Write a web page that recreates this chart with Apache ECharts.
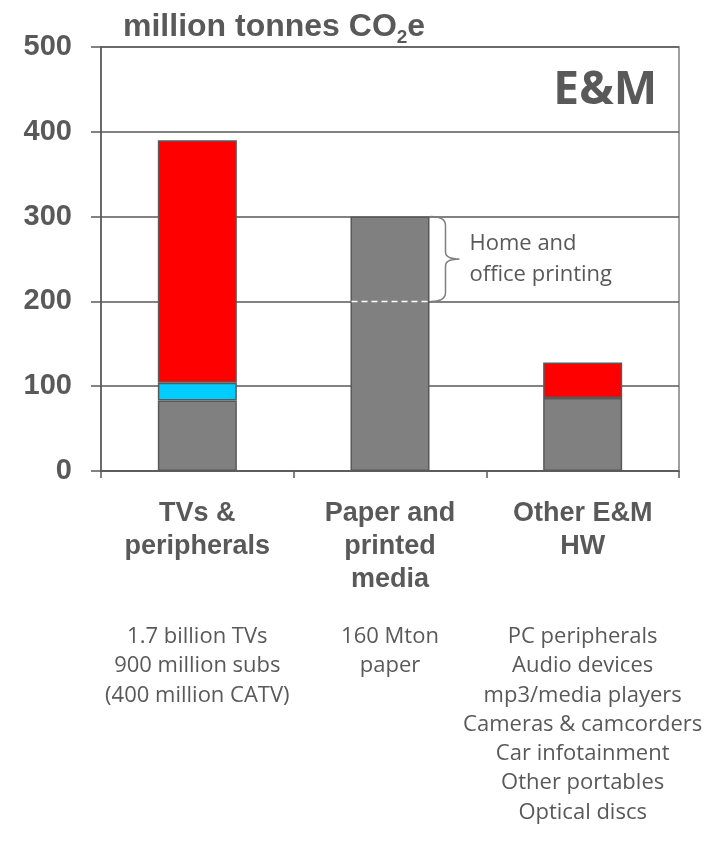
<!DOCTYPE html>
<html>
<head>
<meta charset="utf-8">
<script src="https://cdn.jsdelivr.net/npm/echarts@6/dist/echarts.min.js"></script>
<style>
html,body{margin:0;padding:0;background:#fff;}
#chart{width:715px;height:842px;}
</style>
</head>
<body>
<div id="chart"></div>
<script>
// ---- data ----
const categories = ['TVs &\nperipherals', 'Paper and\nprinted\nmedia', 'Other E&M\nHW'];
const descriptions = [
  '1.7 billion TVs\n900 million subs\n(400 million CATV)',
  '160 Mton\npaper',
  'PC peripherals\nAudio devices\nmp3/media players\nCameras & camcorders\nCar infotainment\nOther portables\nOptical discs'
];
const grayValues = [83, 300, 86];
const blueValues = [21, null, null];
const redValues = [286, null, 42];
const yMin = 0, yMax = 500, yInterval = 100;
const printingCategory = 1;
const printingRange = [200, 300];
const printingLabel = 'Home and\noffice printing';
const unitLabel = 'million tonnes CO';
const panelLabel = 'E&M';

// ---- chart ----
const TXT = '#595959';
const BOLD = '"Liberation Sans", Arial, sans-serif';
const BAR_W = 0.41;
const chart = echarts.init(document.getElementById('chart'));

const barStyle = (c) => ({ color: c, borderColor: '#595959', borderWidth: 1.5 });

chart.setOption({
  animation: false,
  title: {
    left: 118, top: 3,
    text: '{a|' + unitLabel + '}{s|2}{a|e}',
    textStyle: {
      rich: {
        a: { fontFamily: BOLD, fontWeight: 'bold', fontSize: 32, color: TXT, lineHeight: 38 },
        s: { fontFamily: BOLD, fontWeight: 'bold', fontSize: 19, color: TXT, lineHeight: 19, padding: [21, 0, 0, 0] }
      }
    }
  },
  graphic: [{
    type: 'text', right: 58, top: 68,
    style: { text: panelLabel, font: 'bold 46px "Open Sans"', fill: TXT }
  }],
  grid: { left: 101, right: 36, top: 47, bottom: 371, show: true, borderColor: '#808080', borderWidth: 1.5 },
  xAxis: [{
    type: 'category', data: categories, position: 'bottom',
    axisLine: { lineStyle: { color: '#595959', width: 1.5 } },
    axisTick: { show: true, length: 7, interval: 0, lineStyle: { color: '#595959', width: 1.5 } },
    axisLabel: {
      interval: 0, margin: 26, verticalAlign: 'top',
      fontFamily: BOLD, fontWeight: 'bold', fontSize: 27, lineHeight: 33, color: TXT
    }
  }, {
    type: 'category', data: descriptions, position: 'bottom',
    axisLine: { show: false }, axisTick: { show: false },
    axisLabel: {
      interval: 0, margin: 151, verticalAlign: 'top',
      fontFamily: '"Open Sans"', fontSize: 22, lineHeight: 29.3, color: TXT
    }
  }],
  yAxis: {
    type: 'value', min: yMin, max: yMax, interval: yInterval,
    axisLine: { show: true, lineStyle: { color: '#595959', width: 1.5 } },
    axisTick: { show: true, length: 10, lineStyle: { color: '#595959', width: 1.5 } },
    splitLine: { lineStyle: { color: '#595959', width: 1.5 } },
    axisLabel: { margin: 29, fontFamily: BOLD, fontWeight: 'bold', fontSize: 29, color: TXT }
  },
  series: [
    { type: 'bar', stack: 's', data: grayValues, barWidth: (BAR_W * 100) + '%', itemStyle: barStyle('#808080') },
    { type: 'bar', stack: 's', data: blueValues, barWidth: (BAR_W * 100) + '%', itemStyle: barStyle('#00CCFF') },
    { type: 'bar', stack: 's', data: redValues, barWidth: (BAR_W * 100) + '%', itemStyle: barStyle('#FF0000') },
    {
      type: 'custom', z: 10, silent: true,
      data: [[printingCategory, printingRange[0], printingRange[1]]],
      renderItem: function (params, api) {
        const lo = api.coord([api.value(0), api.value(1)]);
        const hi = api.coord([api.value(0), api.value(2)]);
        const band = api.size([1, 0])[0];
        const bw = band * BAR_W;
        const left = lo[0] - bw / 2, right = lo[0] + bw / 2;
        const yT = hi[1], yB = lo[1], yM = (yT + yB) / 2;
        const x0 = right + 1, x1 = x0 + 15, x2 = x0 + 29;
        const path = 'M' + x0 + ' ' + yT + ' Q' + x1 + ' ' + yT + ' ' + x1 + ' ' + (yT + 9) +
          ' L' + x1 + ' ' + (yM - 7) + ' Q' + x1 + ' ' + yM + ' ' + x2 + ' ' + yM +
          ' Q' + x1 + ' ' + yM + ' ' + x1 + ' ' + (yM + 7) +
          ' L' + x1 + ' ' + (yB - 9) + ' Q' + x1 + ' ' + yB + ' ' + x0 + ' ' + yB;
        return {
          type: 'group',
          children: [
            { type: 'line', shape: { x1: left + 1, y1: yB, x2: right - 1, y2: yB },
              style: { stroke: '#ffffff', lineWidth: 1.5, lineDash: [6, 4] } },
            { type: 'path', shape: { pathData: path },
              style: { fill: 'none', stroke: '#7f7f7f', lineWidth: 1.5 } },
            { type: 'text', x: x2 + 10, y: yM,
              style: { text: printingLabel, font: '22px "Open Sans"', fill: TXT,
                       lineHeight: 31, textAlign: 'left', textVerticalAlign: 'middle' } }
          ]
        };
      }
    }
  ]
});
</script>
</body>
</html>
